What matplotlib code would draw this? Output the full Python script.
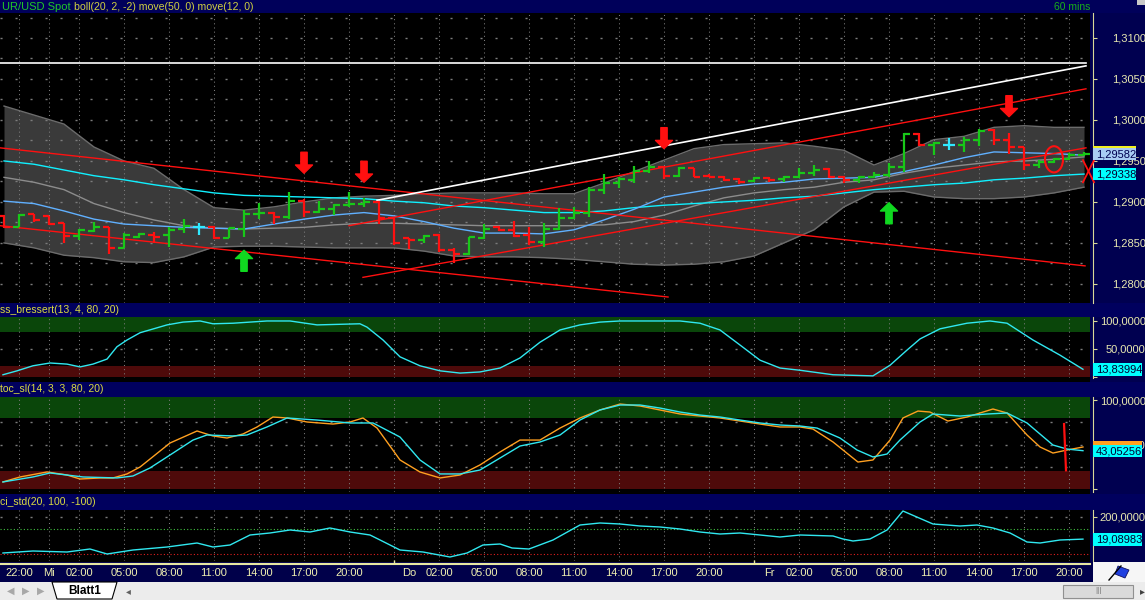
import matplotlib.pyplot as plt
from matplotlib.patches import Rectangle, Ellipse, Polygon

plt.rcParams['font.family'] = ['Liberation Sans', 'DejaVu Sans']

W, H = 1145, 600

# hourly bars, hour 0 = Wednesday 00:00
bar_hours = list(range(-3, 70))
opens = [1.2883, 1.2869, 1.2885, 1.2883, 1.2874, 1.2858, 1.2865, 1.2869, 1.2844, 1.2857,
         1.2860, 1.2860, 1.2867, 1.2869, 1.2869, 1.2856, 1.2867, 1.2885, 1.2887, 1.2882,
         1.2901, 1.2888, 1.2891, 1.2896, 1.2898, 1.2900, 1.2880, 1.2856, 1.2854, 1.2860,
         1.2841, 1.2837, 1.2856, 1.2869, 1.2866, 1.2860, 1.2851, 1.2867, 1.2880, 1.2887,
         1.2915, 1.2923, 1.2927, 1.2938, 1.2943, 1.2932, 1.2941, 1.2932, 1.2930, 1.2928,
         1.2926, 1.2929, 1.2928, 1.2930, 1.2935, 1.2940, 1.2930, 1.2927, 1.2930, 1.2933,
         1.2943, 1.2983, 1.2970, 1.2970, 1.2970, 1.2976, 1.2988, 1.2976, 1.2967, 1.2945,
         1.2949, 1.2952, 1.2957]
highs = [1.2884, 1.2885, 1.2885, 1.2883, 1.2874, 1.2867, 1.2876, 1.2869, 1.2862, 1.2862,
         1.2863, 1.2869, 1.2879, 1.2874, 1.2871, 1.2868, 1.2890, 1.2899, 1.2888, 1.2912,
         1.2904, 1.2901, 1.2898, 1.2912, 1.2905, 1.2901, 1.2880, 1.2856, 1.2860, 1.2861,
         1.2844, 1.2857, 1.2873, 1.2871, 1.2877, 1.2869, 1.2874, 1.2893, 1.2894, 1.2918,
         1.2934, 1.2930, 1.2944, 1.2950, 1.2944, 1.2943, 1.2941, 1.2934, 1.2932, 1.2929,
         1.2930, 1.2930, 1.2932, 1.2941, 1.2945, 1.2941, 1.2932, 1.2932, 1.2937, 1.2948,
         1.2984, 1.2984, 1.2973, 1.2978, 1.2979, 1.2989, 1.2989, 1.2984, 1.2967, 1.2951,
         1.2954, 1.2960, 1.2961]
lows = [1.2868, 1.2869, 1.2876, 1.2872, 1.2850, 1.2854, 1.2863, 1.2837, 1.2844, 1.2856,
        1.2850, 1.2845, 1.2862, 1.2860, 1.2855, 1.2856, 1.2857, 1.2879, 1.2873, 1.2879,
        1.2882, 1.2887, 1.2884, 1.2894, 1.2894, 1.2873, 1.2848, 1.2843, 1.2850, 1.2839,
        1.2826, 1.2835, 1.2855, 1.2865, 1.2857, 1.2848, 1.2845, 1.2866, 1.2879, 1.2882,
        1.2910, 1.2917, 1.2923, 1.2935, 1.2928, 1.2930, 1.2930, 1.2930, 1.2926, 1.2922,
        1.2924, 1.2924, 1.2924, 1.2929, 1.2932, 1.2929, 1.2923, 1.2923, 1.2929, 1.2930,
        1.2937, 1.2968, 1.2957, 1.2963, 1.2961, 1.2968, 1.2970, 1.2959, 1.2939, 1.2941,
        1.2948, 1.2951, 1.2956]
closes = [1.2869, 1.2884, 1.2878, 1.2873, 1.2858, 1.2866, 1.2869, 1.2844, 1.2860, 1.2861,
          1.2857, 1.2866, 1.2871, 1.2869, 1.2856, 1.2868, 1.2885, 1.2887, 1.2882, 1.2901,
          1.2888, 1.2891, 1.2896, 1.2898, 1.2900, 1.2880, 1.2850, 1.2854, 1.2859, 1.2841,
          1.2837, 1.2857, 1.2867, 1.2866, 1.2858, 1.2851, 1.2867, 1.2880, 1.2887, 1.2915,
          1.2923, 1.2928, 1.2938, 1.2943, 1.2932, 1.2941, 1.2930, 1.2930, 1.2927, 1.2924,
          1.2929, 1.2927, 1.2930, 1.2935, 1.2939, 1.2930, 1.2927, 1.2930, 1.2933, 1.2943,
          1.2983, 1.2970, 1.2972, 1.2970, 1.2976, 1.2987, 1.2976, 1.2967, 1.2945, 1.2949,
          1.2952, 1.2957, 1.2958]

# bollinger(20,2) and moving averages, read every second hour
band_hours = list(range(-3, 70, 2))
boll_upper = [1.3017, 1.3006, 1.2995, 1.2967, 1.2950, 1.2941, 1.2915, 1.2893, 1.2890, 1.2894,
              1.2900, 1.2905, 1.2907, 1.2908, 1.2910, 1.2911, 1.2911, 1.2911, 1.2910, 1.2910,
              1.2923, 1.2937, 1.2951, 1.2965, 1.2970, 1.2971, 1.2972, 1.2968, 1.2963, 1.2945,
              1.2959, 1.2976, 1.2980, 1.2991, 1.2993, 1.2991, 1.2991]
boll_lower = [1.2850, 1.2844, 1.2835, 1.2832, 1.2827, 1.2826, 1.2833, 1.2845, 1.2846, 1.2846,
              1.2845, 1.2844, 1.2844, 1.2844, 1.2840, 1.2834, 1.2833, 1.2833, 1.2832, 1.2830,
              1.2827, 1.2824, 1.2823, 1.2824, 1.2827, 1.2834, 1.2850, 1.2866, 1.2894, 1.2912,
              1.2913, 1.2906, 1.2904, 1.2904, 1.2906, 1.2911, 1.2918]
boll_mid = [1.2930, 1.2924, 1.2915, 1.2898, 1.2887, 1.2878, 1.2871, 1.2868, 1.2867, 1.2868,
            1.2869, 1.2872, 1.2874, 1.2874, 1.2873, 1.2872, 1.2871, 1.2871, 1.2871, 1.2871,
            1.2872, 1.2876, 1.2884, 1.2895, 1.2905, 1.2911, 1.2915, 1.2918, 1.2924, 1.2927,
            1.2935, 1.2941, 1.2945, 1.2949, 1.2950, 1.2952, 1.2955]
move12 = [1.2901, 1.2898, 1.2889, 1.2879, 1.2873, 1.2871, 1.2869, 1.2868, 1.2867, 1.2873,
          1.2879, 1.2884, 1.2887, 1.2883, 1.2876, 1.2868, 1.2862, 1.2862, 1.2861, 1.2866,
          1.2878, 1.2891, 1.2906, 1.2912, 1.2918, 1.2922, 1.2924, 1.2928, 1.2929, 1.2930,
          1.2937, 1.2945, 1.2954, 1.2961, 1.2960, 1.2959, 1.2957]
move50 = [1.2950, 1.2946, 1.2939, 1.2932, 1.2927, 1.2921, 1.2916, 1.2911, 1.2908, 1.2907,
          1.2906, 1.2905, 1.2904, 1.2901, 1.2899, 1.2895, 1.2893, 1.2890, 1.2887, 1.2887,
          1.2889, 1.2893, 1.2896, 1.2898, 1.2900, 1.2902, 1.2905, 1.2907, 1.2911, 1.2915,
          1.2918, 1.2921, 1.2923, 1.2927, 1.2929, 1.2932, 1.2934]

# hand drawn trend lines: (hour0, price0, hour1, price1)
red_lines = [(-3.27, 1.2966, 69.07, 1.2822),
             (-3.27, 1.2871, 41.27, 1.2784),
             (20.0, 1.2871, 69.13, 1.3038),
             (20.93, 1.2808, 69.13, 1.2966)]
white_lines = [(-3.27, 1.3070, 69.13, 1.3070),
               (21.87, 1.2902, 69.13, 1.3066)]

sell_hours = [17, 21, 41, 64]
sell_prices = [1.2935, 1.2924, 1.2965, 1.3004]
buy_hours = [13, 56]
buy_prices = [1.2841, 1.2899]

# ss_bressert(13, 4, 80, 20)
bress_hours = [-3.07, -2.13, -1.07, 0.07, 1.2, 2.07, 2.93, 3.87, 4.53, 5.2, 6.07, 7.87, 8.93,
               10.07, 10.93, 12.27, 14.53, 16.07, 17.87, 20.73, 21.2, 22.27, 23.4, 24.73, 26.07,
               27.4, 28.73, 30.07, 31.4, 32.73, 34.07, 35.4, 36.73, 38.07, 40.07, 42.07, 43.4,
               44.73, 46.07, 47.4, 48.73, 50.07, 52.27, 54.93, 56.07, 57.2, 58.07, 59.4, 61.2,
               62.73, 63.87, 65.6, 67.4, 68.93]
bress_vals = [4, 11, 20, 25, 23, 18, 23, 32, 54, 66, 79, 93, 98, 100, 95, 96, 100, 100, 93,
              95, 89, 66, 36, 20, 11, 7, 9, 16, 34, 62, 84, 93, 98, 100, 100, 100, 96, 84, 57,
              30, 16, 12, 4, 2, 21, 48, 68, 86, 96, 100, 96, 66, 39, 13.8]

# stoc_sl(14, 3, 3, 80, 20)
k_hours = [-3.07, -1.93, -0.13, 1.2, 2.07, 3.4, 4.27, 5.2, 6.07, 8.07, 9.87, 10.93, 11.87,
           12.93, 13.87, 14.93, 15.87, 17.2, 18.93, 20.07, 20.93, 21.87, 23.4, 24.73, 26.07,
           27.4, 28.73, 30.07, 31.4, 32.73, 34.07, 35.4, 36.73, 38.07, 39.4, 40.73, 42.07,
           43.4, 44.73, 46.07, 47.4, 48.73, 50.07, 50.93, 52.27, 53.93, 54.93, 56.07, 56.93,
           57.93, 58.73, 59.93, 61.2, 62.93, 63.87, 65.2, 66.07, 66.93, 67.87, 68.93]
k_vals = [7.9, 13.5, 19.1, 15.7, 11.2, 12.4, 12.4, 16.9, 24.7, 51.7, 65.2, 59.6, 57.3, 61.8,
          69.7, 80.9, 79.8, 75.3, 73, 75.3, 79.8, 68.5, 32.6, 19.1, 12.4, 15.7, 27, 41.6, 55,
          55, 68.5, 79.8, 88.8, 95.5, 93.3, 88.8, 84.3, 82, 79.8, 76.4, 73, 69.7, 69.7, 67.4,
          52.8, 30.3, 32.6, 55, 79.8, 87.6, 86.5, 76.4, 80.9, 89.9, 85.4, 60.7, 47.2, 40.4,
          43.8, 47.2]
d_hours = [-3.07, -1.07, 0.07, 2.27, 4.53, 5.6, 6.73, 8.27, 9.6, 10.53, 12.27, 13.2, 14.53,
           15.87, 17.87, 20.07, 21.6, 23.4, 24.73, 26.07, 27.4, 28.73, 30.07, 31.4, 32.73,
           34.07, 35.4, 36.73, 38.07, 39.4, 40.73, 42.07, 43.4, 44.73, 46.07, 47.4, 48.73,
           50.07, 51.2, 52.73, 53.87, 54.93, 55.87, 56.73, 58.07, 58.93, 60.73, 62.53, 63.87,
           65.2, 66.93, 67.87, 68.93]
d_vals = [7.9, 13.5, 18, 13.5, 12.4, 14.6, 23.6, 40.4, 55, 60.7, 59.6, 60.7, 69.7, 79.8,
          77.5, 74.2, 74.2, 58.4, 32.6, 16.9, 16.9, 21.3, 34.8, 48.3, 52.8, 60.7, 77.5, 88.8,
          94.4, 94.4, 91, 86.5, 83.1, 80.9, 77.5, 74.2, 71.9, 70.8, 68.5, 57.3, 43.8, 36,
          39.3, 55, 75.3, 84.3, 82, 84.3, 85.4, 74.2, 49.4, 44.9, 43.05]

# cci_std(20, 100, -100)
cci_hours = [-3.07, -1.07, 1.2, 2.73, 3.87, 5.6, 7.87, 9.87, 10.93, 12.07, 13.4, 14.73, 16.07,
             17.4, 18.73, 20.07, 21.4, 22.07, 23.4, 24.93, 26.73, 27.87, 28.93, 30.07, 30.87,
             32, 33.6, 35.4, 36.73, 38.07, 39.4, 40.73, 42.07, 43.4, 44.73, 46.07, 47.4, 48.73,
             50.07, 52.27, 52.93, 53.6, 54.73, 55.87, 56.93, 58.93, 60.73, 61.87, 62.93, 64.07,
             65.2, 66.07, 67.4, 68.93]
cci_vals = [-92, -76, -84, -60, -100, -68, -44, -12, -44, -28, 52, 68, 92, 76, 108, 76, 52, 12,
            -68, -84, -124, -92, -28, -20, -52, -60, 12, 132, 148, 140, 124, 116, 100, 76, 60,
            68, 52, 36, 52, 44, 20, 4, 20, 92, 244, 140, 124, 132, 108, 68, -4, -12, 12, 19.09]

grid_hours = [-2, 0] + list(range(2, 69, 3))
label_hours = [-2, 0, 2, 5, 8, 11, 14, 17, 20, 24, 26, 29, 32, 35, 38, 41, 44, 48,
               50, 53, 56, 59, 62, 65, 68]
time_labels = ['22:00', 'Mi', '02:00', '05:00', '08:00', '11:00', '14:00', '17:00', '20:00',
               'Do', '02:00', '05:00', '08:00', '11:00', '14:00', '17:00', '20:00',
               'Fr', '02:00', '05:00', '08:00', '11:00', '14:00', '17:00', '20:00']

x_min, x_max = -49 / 15, (1090 - 49) / 15
yellow = '#d8d898'
grid_col = '#7c7c7c'


def fmt(v):
    return '0' if v == 0 else f'{v:.5f}'.replace('.', ',')


fig = plt.figure(figsize=(W / 100, H / 100), dpi=100, facecolor='black')
bg = fig.add_axes([0, 0, 1, 1], zorder=0)
bg.set_xlim(0, W)
bg.set_ylim(H, 0)
bg.axis('off')
top = fig.add_axes([0, 0, 1, 1], zorder=10)
top.set_xlim(0, W)
top.set_ylim(H, 0)
top.axis('off')


def px_rect(ax, x0, y0, x1, y1, color, **kw):
    ax.add_patch(Rectangle((x0, y0), x1 - x0, y1 - y0, facecolor=color,
                           edgecolor=kw.pop('ec', 'none'), **kw))


# window chrome
px_rect(bg, 0, 0, W, 13, '#00005a')
px_rect(bg, 1090, 13, W, 562, '#000050')
for y0, y1 in [(303, 317), (382, 397), (494, 510)]:
    px_rect(bg, 0, y0, W, y1, '#00005e')
px_rect(bg, 0, 562, 1093, 582, '#00004a')
px_rect(bg, 1093, 562, W, 582, '#f6f6f6')
px_rect(bg, 0, 582, W, H, '#ececec')
px_rect(bg, 1137, 0, W, 5, '#c8c8c8')

bg.text(2, 6.5, 'UR/USD Spot', color='#20c828', fontsize=8, va='center')
bg.text(74, 6.5, 'boll(20, 2, -2) move(50, 0) move(12, 0)', color='#d0d040',
        fontsize=7.6, va='center')
bg.text(1054, 6.5, '60 mins', color='#18b018', fontsize=7.5, va='center')
bg.text(0, 310, 'ss_bressert(13, 4, 80, 20)', color='#dcdc40', fontsize=7.5, va='center')
bg.text(0, 389.5, 'toc_sl(14, 3, 3, 80, 20)', color='#dcdc40', fontsize=7.5, va='center')
bg.text(0, 502, 'ci_std(20, 100, -100)', color='#dcdc40', fontsize=7.5, va='center')

# sheet tab bar
for x, s in [(11, '◀'), (26, '▶'), (41, '▶')]:
    bg.text(x, 591, s, color='#a8a8a8', fontsize=7, ha='center', va='center',
            family='DejaVu Sans')
bg.add_patch(Polygon([(52, 582), (57, 599), (112, 599), (117, 582)], closed=True,
                     facecolor='white', edgecolor='black', lw=0.8))
bg.text(84.5, 590.5, 'Blatt1', color='black', fontsize=8.5, weight='bold',
        ha='center', va='center')
bg.text(128, 591, '◂', color='#606060', fontsize=7, ha='center', va='center',
        family='DejaVu Sans')
px_rect(bg, 1063, 585, 1133, 598, '#dadada', ec='#909090', lw=0.8)
bg.text(1098, 591, '|||', color='#707070', fontsize=6, ha='center', va='center')
bg.text(1142, 591, '▸', color='#404040', fontsize=7, ha='center', va='center',
        family='DejaVu Sans')
bg.plot([1109, 1121], [580, 566], color='black', lw=1)
bg.add_patch(Polygon([(1118, 566), (1129, 570), (1125, 578), (1115, 574)], closed=True,
                     facecolor='#2040e0', edgecolor='#101060', lw=0.6))


def panel(y0, y1, ylim, yticks):
    ax = fig.add_axes([0, 1 - y1 / H, 1090 / W, (y1 - y0) / H], zorder=1)
    ax.set_facecolor('black')
    ax.set_xlim(x_min, x_max)
    ax.set_ylim(*ylim)
    for s in ['left', 'top', 'bottom']:
        ax.spines[s].set_visible(False)
    ax.spines['right'].set_color(yellow)
    ax.spines['right'].set_position(('outward', 2))
    ax.yaxis.tick_right()
    ax.set_yticks(yticks)
    ax.set_yticklabels([fmt(v) for v in yticks])
    ax.tick_params(axis='y', colors=yellow, labelcolor='#e8e8b0', labelsize=8,
                   length=3, width=0.8, pad=39.6)
    for lbl in ax.get_yticklabels():
        lbl.set_horizontalalignment('right')
    ax.tick_params(axis='x', bottom=False, labelbottom=False)
    for h in grid_hours:
        ax.axvline(h, color=grid_col, lw=0.75, ls=(0, (1, 3)), zorder=1.5)
    return ax


# ---- price panel
ax = panel(13, 303, (1.27767, 1.31305), [1.280, 1.285, 1.290, 1.295, 1.300, 1.305, 1.310])
for p in [1.2775 + 0.0025 * i for i in range(15)]:
    ax.axhline(p, color=grid_col, lw=1, ls=(0, (1.5, 9.3)), zorder=1.5)
ax.fill_between(band_hours, boll_lower, boll_upper, color='#3a3a3a', lw=0, zorder=1)
ax.plot(band_hours, boll_upper, color='#6c6c6c', lw=1, zorder=1.6)
ax.plot(band_hours, boll_lower, color='#6c6c6c', lw=1, zorder=1.6)
ax.plot(band_hours, boll_mid, color='#8c8c8c', lw=1, zorder=2)
ax.plot(band_hours, move50, color='#10f0ff', lw=1, zorder=2)
ax.plot(band_hours, move12, color='#60b0ff', lw=1, zorder=2)
for h0, p0, h1, p1 in red_lines:
    ax.plot([h0, h1], [p0, p1], color='#ff1010', lw=1, zorder=3)
for h0, p0, h1, p1 in white_lines:
    ax.plot([h0, h1], [p0, p1], color='white', lw=1.2, zorder=3)

cols = ['#18c818' if c > o else ('#ff1010' if c < o else '#30e8ff')
        for o, c in zip(opens, closes)]
ax.vlines(bar_hours, lows, highs, colors=cols, lw=1.6, zorder=4)
ax.hlines(opens, [h - 0.38 for h in bar_hours], bar_hours, colors=cols, lw=1.6, zorder=4)
ax.hlines(closes, bar_hours, [h + 0.38 for h in bar_hours], colors=cols, lw=1.6, zorder=4)

arrow_style = 'simple,head_length=0.85,head_width=1.75,tail_width=0.65'
for h, p in zip(sell_hours, sell_prices):
    ax.annotate('', xy=(h, p), xytext=(0, 21), textcoords='offset pixels',
                arrowprops=dict(arrowstyle=arrow_style, color='#ff1010', shrinkA=0,
                                shrinkB=0, mutation_scale=7), zorder=5)
for h, p in zip(buy_hours, buy_prices):
    ax.annotate('', xy=(h, p), xytext=(0, -21), textcoords='offset pixels',
                arrowprops=dict(arrowstyle=arrow_style, color='#10d820', shrinkA=0,
                                shrinkB=0, mutation_scale=7), zorder=5)
ax.add_patch(Ellipse((67.0, 1.2952), 1.2, 0.0032, fill=False, edgecolor='#ff1010',
                     lw=1.5, zorder=5))
ax.plot([68.93, 69.67], [1.2951, 1.2924], color='#ff1010', lw=1.3, clip_on=False, zorder=5)
ax.plot([68.93, 69.67], [1.2924, 1.2951], color='#ff1010', lw=1.3, clip_on=False, zorder=5)

# ---- ss_bressert panel
ax1 = panel(317, 378, (-1.8, 107.1), [0, 50, 100])
ax1.axhspan(80, 110, color='#0a460a', lw=0, zorder=1)
ax1.axhspan(0, 20, color='#4e0a0a', lw=0, zorder=1)
ax1.axhline(50, color=grid_col, lw=1, ls=(0, (1.5, 9.3)), zorder=1.5)
ax1.plot(bress_hours, bress_vals, color='#30e8f0', lw=1, zorder=3)

# ---- stoc_sl panel
ax2 = panel(397, 492, (-3.4, 103.4), [0, 50, 100])
ax2.axhspan(80, 110, color='#0a460a', lw=0, zorder=1)
ax2.axhspan(0, 20, color='#4e0a0a', lw=0, zorder=1)
for v in [25, 50, 75]:
    ax2.axhline(v, color=grid_col, lw=1, ls=(0, (1.5, 9.3)), zorder=1.5)
ax2.plot(k_hours, k_vals, color='#ffa020', lw=1, zorder=3)
ax2.plot(d_hours, d_vals, color='#30e8f0', lw=1, zorder=3)
ax2.plot([67.67, 67.8], [73, 21], color='#ff1010', lw=1.6, zorder=4)

# ---- cci_std panel
ax3 = panel(510, 561, (-156, 252), [0, 200])
ax3.axhline(200, color=grid_col, lw=1, ls=(0, (1.5, 9.3)), zorder=1.5)
ax3.axhline(100, color='#40c040', lw=0.8, ls=(0, (1, 2)), zorder=1.5)
ax3.axhline(-100, color='#e02020', lw=0.8, ls=(0, (1, 2)), zorder=1.5)
ax3.plot(cci_hours, cci_vals, color='#30e8f0', lw=1, zorder=3)
ax3.spines['bottom'].set_visible(True)
ax3.spines['bottom'].set_color('#e8e8a0')
ax3.spines['bottom'].set_linewidth(1.5)
ax3.spines['bottom'].set_position(('outward', 2))
ax3.set_xticks(label_hours)
ax3.set_xticklabels(time_labels)
ax3.set_xticks(grid_hours, minor=True)
ax3.tick_params(axis='x', which='major', bottom=True, labelbottom=True, length=0,
                pad=3, labelsize=8, labelcolor='#f0f0b0')
ax3.tick_params(axis='x', which='minor', bottom=True, length=3, width=1,
                color='#e8e8a0', direction='in')


# current value boxes on the right scale
def value_box(panel_ax, value, face, text_col, y_half=6.5, x1=1142, top_bar=None):
    y = H - panel_ax.transData.transform((0, value))[1]
    if top_bar:
        px_rect(top, 1093, y - y_half - 2, x1, y - y_half, top_bar)
    px_rect(top, 1093, y - y_half, x1, y + y_half, face)
    top.text(1096, y + 0.5, fmt(value), color=text_col, fontsize=8, va='center')


value_box(ax, 1.29582, '#a8ccf4', '#000050', y_half=6, x1=1136, top_bar='#f0f020')
value_box(ax, 1.29338, '#00ffff', '#000030', y_half=6, x1=1136)
value_box(ax1, 13.83994, '#00ffff', '#000030')
y_k = H - ax2.transData.transform((0, k_vals[-1]))[1]
px_rect(top, 1093, y_k - 6, 1142, y_k + 6, '#ffa020')
value_box(ax2, 43.05256, '#00ffff', '#000030', y_half=6)
value_box(ax3, 19.08983, '#00ffff', '#000030')

fig.savefig('out.png', dpi=100, facecolor='black')
